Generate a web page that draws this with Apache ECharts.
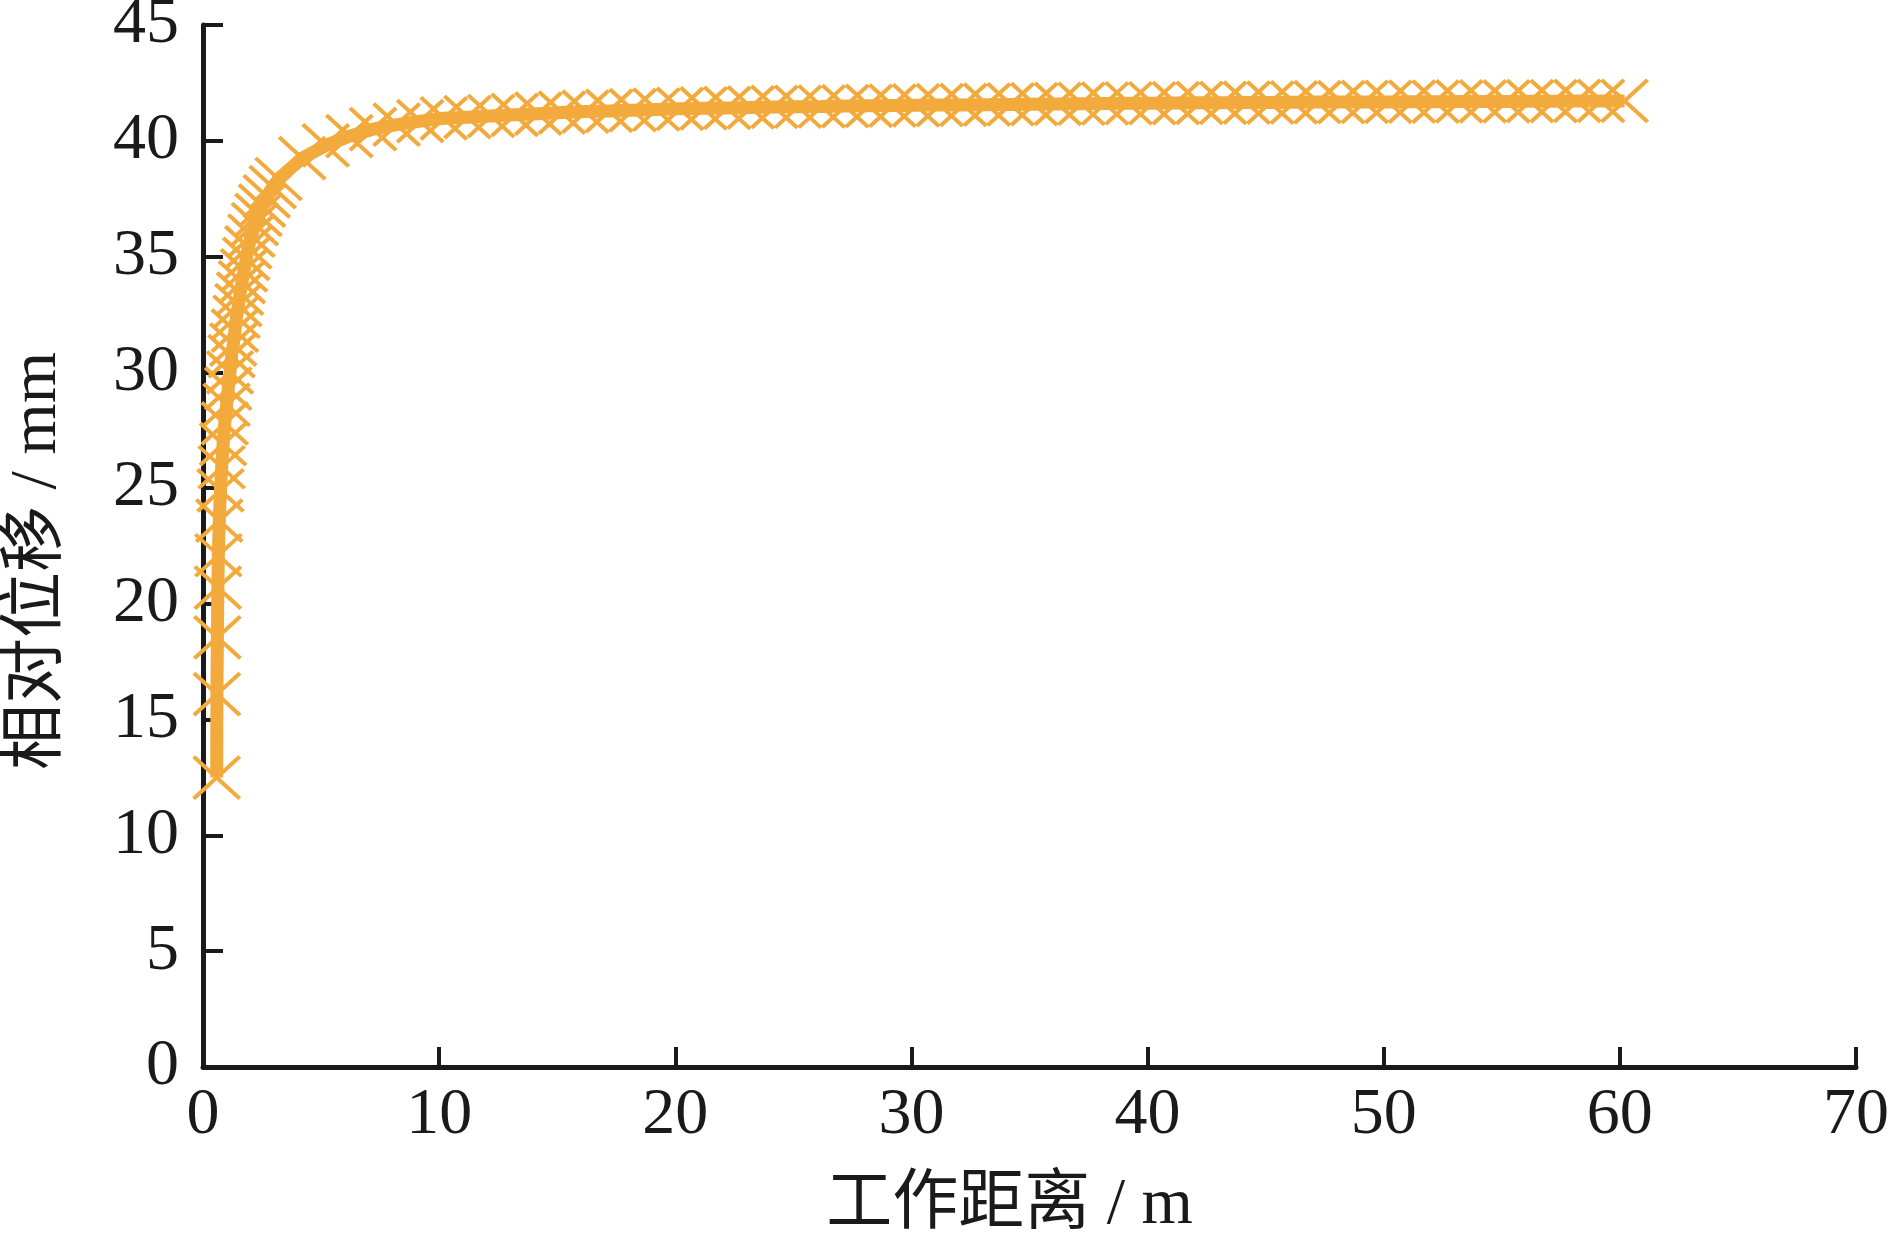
<!DOCTYPE html>
<html>
<head>
<meta charset="utf-8">
<script src="https://cdn.jsdelivr.net/npm/echarts@6/dist/echarts.min.js"></script>
<style>
html,body{margin:0;padding:0;background:#fff;}
#chart{width:1890px;height:1242px;}
</style>
</head>
<body>
<div id="chart"></div>
<script>
// Working distance (m)
const distance = [
  0.58, 0.59, 0.61, 0.63, 0.65, 0.69, 0.74, 0.79, 0.85, 0.92,
  1.00, 1.07, 1.14, 1.21, 1.28, 1.35, 1.42, 1.50, 1.57, 1.65,
  1.74, 1.83, 1.92, 2.05, 2.20, 2.35, 2.50, 2.70, 2.95,
  3.2, 4.2, 5.2, 6.2, 7.2, 8.2, 9.2, 10.2, 11.2, 12.2,
  13.2, 14.2, 15.2, 16.2, 17.2, 18.2, 19.2, 20.2, 21.2, 22.2,
  23.2, 24.2, 25.2, 26.2, 27.2, 28.2, 29.2, 30.2, 31.2, 32.2,
  33.2, 34.2, 35.2, 36.2, 37.2, 38.2, 39.2, 40.2, 41.2, 42.2,
  43.2, 44.2, 45.2, 46.2, 47.2, 48.2, 49.2, 50.2, 51.2, 52.2,
  53.2, 54.2, 55.2, 56.2, 57.2, 58.2, 59.2, 60.2
];
// Relative displacement (mm)
const displacement = [
  12.5, 16.1, 18.55, 20.7, 22.1, 23.6, 24.9, 25.9, 26.9, 27.8,
  28.6, 29.3, 30.0, 30.7, 31.2, 31.8, 32.4, 32.9, 33.4, 33.9,
  34.4, 34.9, 35.4, 35.9, 36.4, 36.8, 37.2, 37.6, 38.0,
  38.35, 39.25, 39.8, 40.2, 40.5, 40.7, 40.85, 40.97, 41.02, 41.07,
  41.12, 41.17, 41.22, 41.26, 41.29, 41.32, 41.35, 41.38, 41.40, 41.42,
  41.44, 41.46, 41.47, 41.48, 41.50, 41.51, 41.52, 41.53, 41.54, 41.55,
  41.56, 41.57, 41.58, 41.59, 41.60, 41.61, 41.62, 41.62, 41.63, 41.64,
  41.64, 41.65, 41.65, 41.66, 41.67, 41.67, 41.68, 41.68, 41.69, 41.69,
  41.70, 41.70, 41.70, 41.71, 41.71, 41.72, 41.72, 41.72
];
const xTitle = '工作距离 / m';
const yTitle = '相对位移 / mm';

const points = distance.map((x, i) => [x, displacement[i]]);
const FONT = '"Liberation Serif", "Times New Roman", "Noto Sans CJK SC", serif';
const ORANGE = '#F2AA3C';
const INK = '#1a1a1a';

const chart = echarts.init(document.getElementById('chart'));
chart.setOption({
  backgroundColor: '#ffffff',
  animation: false,
  grid: { left: 203, right: 34, top: 25, bottom: 175, containLabel: false, outerBoundsMode: 'none' },
  xAxis: {
    type: 'value', min: 0, max: 70, interval: 10,
    name: xTitle, nameLocation: 'middle', nameGap: 106,
    nameTextStyle: { fontFamily: FONT, fontSize: 66, color: INK, padding: [0, 40, 0, 0] },
    axisLine: { show: true, lineStyle: { color: INK, width: 5 } },
    axisTick: { show: true, inside: true, length: 20, lineStyle: { color: INK, width: 4 } },
    axisLabel: { fontFamily: FONT, fontSize: 66, color: INK, margin: 16 },
    splitLine: { show: false }
  },
  yAxis: {
    type: 'value', min: 0, max: 45, interval: 5,
    name: yTitle, nameLocation: 'middle', nameGap: 132, nameRotate: 90,
    nameTextStyle: { fontFamily: FONT, fontSize: 66, color: INK, padding: [0, 30, 0, 0] },
    axisLine: { show: true, lineStyle: { color: INK, width: 5 } },
    axisTick: { show: true, inside: true, length: 20, lineStyle: { color: INK, width: 4 } },
    axisLabel: { fontFamily: FONT, fontSize: 66, color: INK, margin: 24 },
    splitLine: { show: false }
  },
  series: [{
    type: 'line',
    data: points,
    smooth: false,
    showAllSymbol: true,
    symbol: 'path://M0,0L10,10M10,0L0,10',
    symbolSize: [46, 42],
    itemStyle: { color: 'rgba(0,0,0,0)', borderColor: ORANGE, borderWidth: 4 },
    lineStyle: { color: ORANGE, width: 13 },
    clip: false
  }]
});
</script>
</body>
</html>
